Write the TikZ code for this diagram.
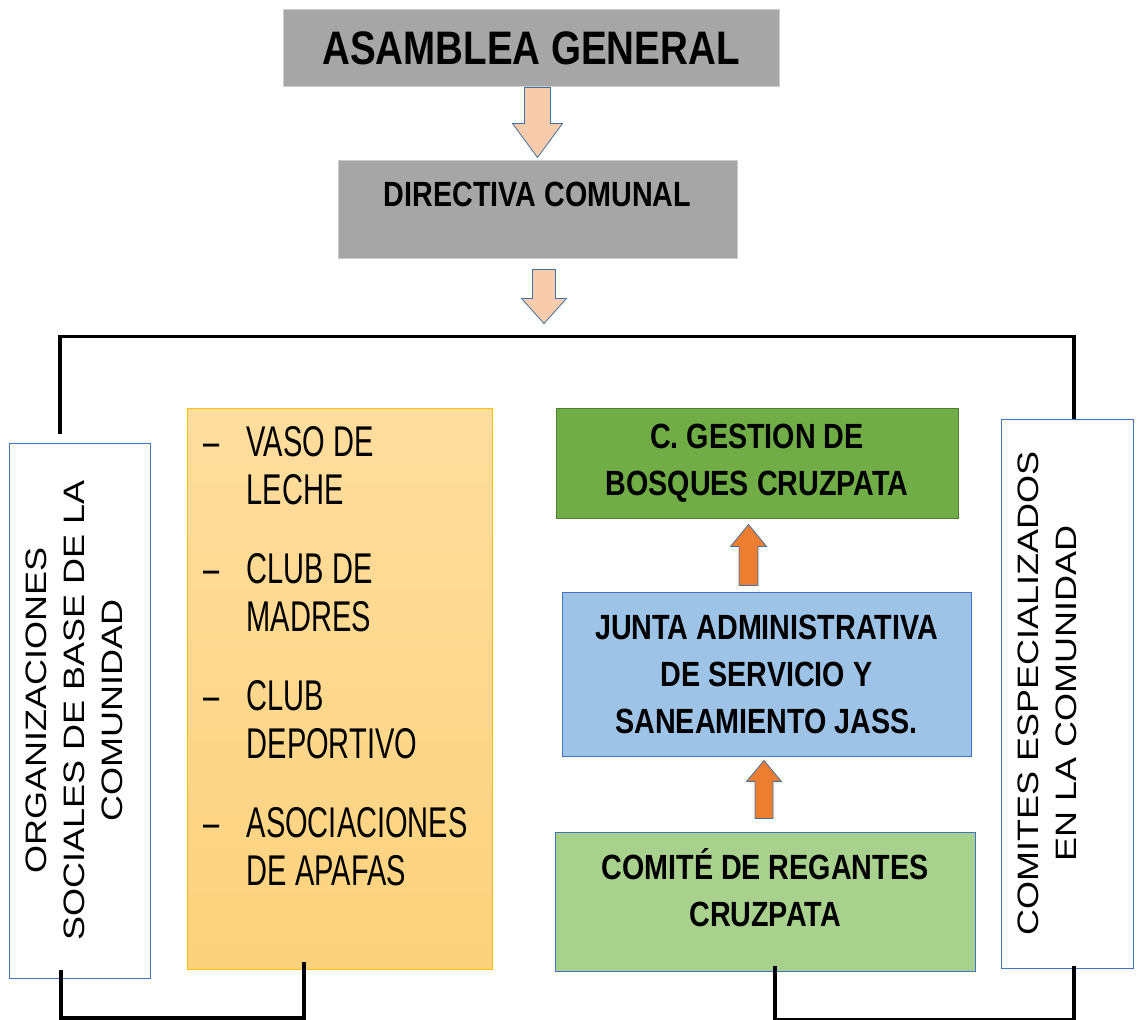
\documentclass[tikz,border=0pt]{standalone}
\usepackage{fontspec}
\usepackage{graphicx}
\usetikzlibrary{positioning}
\newfontfamily\boxfont[FakeStretch=0.82]{Liberation Sans}
\newfontfamily\listfont[FakeStretch=0.675]{Liberation Sans}
\newfontfamily\sidefont{Liberation Sans}
\definecolor{boxgray}{HTML}{A6A6A6}
\definecolor{peach}{HTML}{F8CBAD}
\definecolor{arrowedge}{HTML}{41719C}
\definecolor{orangearrow}{HTML}{ED7D31}
\definecolor{leafgreen}{HTML}{70AD47}
\definecolor{leafedge}{HTML}{507E32}
\definecolor{skyblue}{HTML}{9DC3E6}
\definecolor{paleblue}{HTML}{4472C4}
\definecolor{palegreen}{HTML}{A9D18E}
\definecolor{gold}{HTML}{FFC000}
\definecolor{goldtop}{HTML}{FEDD9E}
\definecolor{goldbottom}{HTML}{FDD27C}
\tikzstyle{unit}=[inner sep=0pt,align=center,line width=1pt,
  font=\boxfont\bfseries\fontsize{35}{47}\selectfont]
\tikzstyle{graybox}=[unit,draw=gray!40,fill=boxgray]
\tikzstyle{greenbox}=[unit,draw=leafedge,fill=leafgreen]
\tikzstyle{bluebox}=[unit,draw=paleblue,fill=skyblue]
\tikzstyle{lightbox}=[unit,draw=paleblue,fill=palegreen]
\tikzstyle{goldbox}=[unit,draw=gold,top color=goldtop,bottom color=goldbottom]
\tikzstyle{sidebox}=[inner sep=0pt,draw=paleblue,fill=white,line width=1pt,
  font=\sidefont\fontsize{36}{46}\selectfont]
\tikzstyle{peacharrow}=[draw=arrowedge,fill=peach,line width=0.8pt]
\tikzstyle{fatarrow}=[draw=arrowedge,fill=orangearrow,line width=0.8pt]
\tikzstyle{bracket}=[line width=3.5pt]
\tikzstyle{footbracket}=[line width=4.5pt]
\newcommand{\newUnit}[4]{\node[#3](#1)[#4]{#2};}
\newcommand{\newArrow}[7]{\draw[#1] ([xshift=-#3]#2) -- ++(0,{#7*#5}) -- ++({#3-#4},0)
  -- ++(#4,{#7*#6}) -- ++(#4,{-1*#7*#6}) -- ++({#3-#4},0) -- ++(0,{-1*#7*#5}) -- cycle;}
\newcommand{\sideText}[1]{\rotatebox{90}{\scalebox{1}[0.82]{\begin{tabular}{@{}c@{}}#1\end{tabular}}}}

\begin{document}
\begin{tikzpicture}[>=latex]
      \useasboundingbox (0,0) rectangle (1139pt,-1019pt);
      \newUnit{asam}{ASAMBLEA GENERAL}{graybox,minimum width=496pt,minimum height=77pt,
        font=\boxfont\bfseries\fontsize{47}{56}\selectfont}{at={(531pt,-48.5pt)}}
      \newUnit{direc}{DIRECTIVA COMUNAL}{graybox,minimum width=399pt,minimum height=97pt,
        text depth=31pt}{below=73pt of asam,xshift=6.5pt}
      \newUnit{gestion}{C. GESTION DE\\BOSQUES CRUZPATA}{greenbox,minimum width=402pt,
        minimum height=110pt}{below=149pt of direc,xshift=219.5pt}
      \newUnit{junta}{JUNTA ADMINISTRATIVA\\DE SERVICIO Y\\SANEAMIENTO JASS.}{bluebox,
        minimum width=409pt,minimum height=164pt}{below=73pt of gestion,xshift=9.5pt}
      \newUnit{comite}{COMITÉ DE REGANTES\\CRUZPATA}{lightbox,minimum width=420pt,
        minimum height=139pt,text depth=28pt}{below=75pt of junta,xshift=-1.5pt}
      \newUnit{clubs}{}{goldbox,minimum width=305pt,minimum height=561pt}
        {left=63pt of gestion.north west,anchor=north east}
      \newUnit{sob}{\sideText{ORGANIZACIONES\\SOCIALES DE BASE DE LA\\COMUNIDAD}\hspace*{5pt}}
        {sidebox,minimum width=141pt,minimum height=535pt}
        {left=36pt of clubs.north west,anchor=north east,yshift=-35pt}
      \newUnit{cesp}{\sideText{COMITES ESPECIALIZADOS\\EN LA COMUNIDAD}\hspace*{34pt}}
        {sidebox,minimum width=132pt,minimum height=549pt}
        {right=42pt of gestion.north east,anchor=north west,yshift=-11pt}
      \node[anchor=north west,inner sep=0pt,font=\listfont\fontsize{43}{48}\selectfont]
        (clubitems) at ([xshift=17pt,yshift=-15pt]clubs.north west)
        {\begin{tabular}{@{}p{43pt}@{}l@{}}
          –&VASO DE\\ &LECHE\\[31pt]
          –&CLUB DE\\ &MADRES\\[31pt]
          –&CLUB\\ &DEPORTIVO\\[31pt]
          –&ASOCIACIONES\\ &DE APAFAS
        \end{tabular}};
      % block arrows
      \coordinate (a1) at ([xshift=6.5pt]asam.south);
      \coordinate (a2) at ([xshift=6.5pt,yshift=-11pt]direc.south);
      \coordinate (u1) at ([xshift=-18pt,yshift=6pt]junta.north);
      \coordinate (u2) at ([xshift=-1pt,yshift=13pt]comite.north);
      \newArrow{peacharrow}{a1}{13pt}{25pt}{36pt}{34pt}{-1}
      \newArrow{peacharrow}{a2}{11.5pt}{22.5pt}{29pt}{25pt}{-1}
      \newArrow{fatarrow}{u1}{9.5pt}{18pt}{39pt}{22pt}{1}
      \newArrow{fatarrow}{u2}{9pt}{17.5pt}{37pt}{21pt}{1}
      % brackets
      \coordinate (ltop) at ([xshift=-19.5pt,yshift=9pt]sob.north);
      \coordinate (sobfoot) at ([xshift=-18.5pt,yshift=9pt]sob.south);
      \coordinate (comfoot) at ([xshift=10pt,yshift=6pt]comite.south);
      \draw[bracket] (ltop) -- ++(0,97pt) -| ([xshift=7pt]cesp.north);
      \draw[footbracket] (sobfoot) -- ++(0,-49pt) -| ([xshift=-35.5pt,yshift=8pt]clubs.south);
      \draw[footbracket] (comfoot) -- ++(0,-55pt) -| ([xshift=7pt,yshift=3pt]cesp.south);
\end{tikzpicture}
\end{document}
